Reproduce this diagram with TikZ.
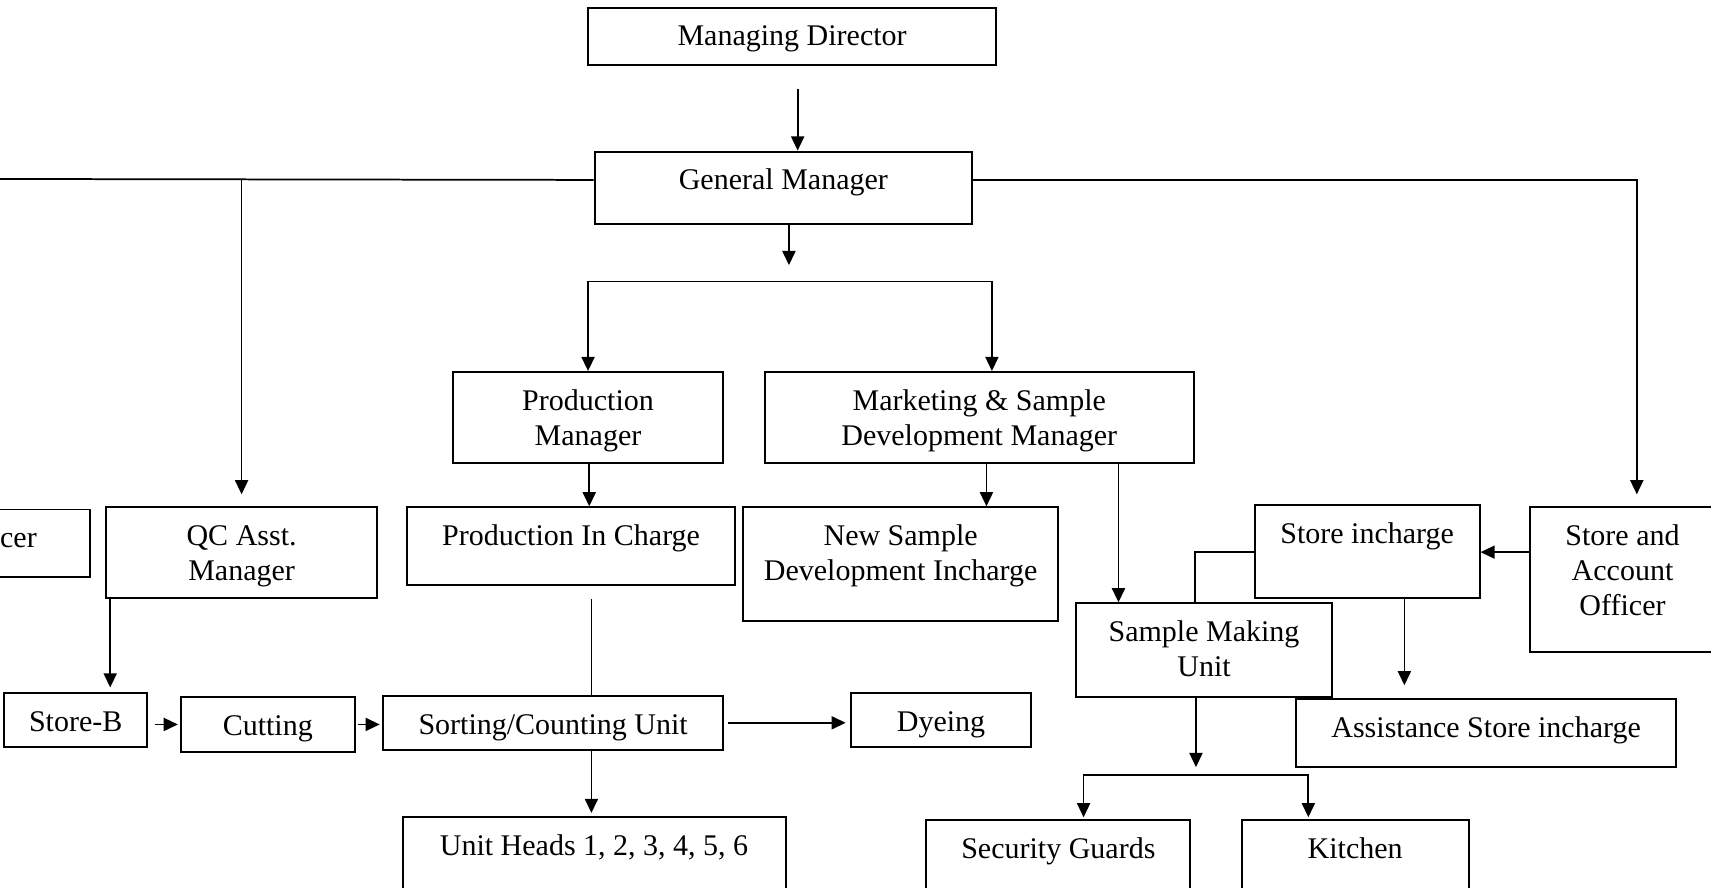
\documentclass[tikz,border=0pt]{standalone}
\usepackage{fontspec}
\setmainfont{Liberation Serif}
\usetikzlibrary{arrows.meta}

\begin{document}
\begin{tikzpicture}[x=1pt, y=-1pt,
	box/.style={draw, line width=1.8pt, anchor=north west, align=center,
		inner xsep=0pt, inner ysep=0pt, text height=35pt,
		font=\fontsize{27.5}{32}\selectfont},
	two/.style={text height=67pt},
	three/.style={text height=99pt},
	ln/.style={line width=1.6pt},
	arr/.style={ln, -{Triangle[length=13pt,width=12pt]}}]
	\useasboundingbox (0,0) rectangle (1568,813);
	\clip (0,0) rectangle (1568,813);

	\node[box, minimum width=374pt, text depth=18pt] (md) at (538,6) {Managing Director};
	\node[box, minimum width=346pt, text depth=31pt] (gm) at (544,138) {General Manager};
	\node[box, two, minimum width=248pt, text depth=16pt] (pm) at (414,340) {Production\\Manager};
	\node[box, two, minimum width=393pt, text depth=16pt] (mk) at (700,340) {Marketing \& Sample\\Development Manager};
	\node[box, minimum width=132pt, text depth=27pt] (off) at (-50,466) {cer};
	\node[box, two, minimum width=249pt, text depth=16pt] (qc) at (96,464) {QC Asst.\\Manager};
	\node[box, minimum width=301pt, text depth=36pt] (pic) at (372,464) {Production In Charge};
	\node[box, two, minimum width=289pt, text depth=37pt] (nsd) at (680,464) {New Sample\\Development Incharge};
	\node[box, minimum width=206pt, text depth=50pt] (si) at (1149,462) {Store incharge};
	\node[box, three, minimum width=170pt, text depth=34pt] (sao) at (1401,464) {Store and\\Account\\Officer};
	\node[box, two, minimum width=235pt, text depth=19pt] (smu) at (985,552) {Sample Making\\Unit};
	\node[box, minimum width=131pt, text depth=15pt] (sb) at (3,634) {Store-B};
	\node[box, minimum width=159pt, text depth=15pt] (cut) at (165,638) {Cutting};
	\node[box, minimum width=312pt, text depth=14pt] (sort) at (350,637) {Sorting/Counting Unit};
	\node[box, minimum width=165pt, text depth=15pt] (dye) at (779,634) {Dyeing};
	\node[box, minimum width=348pt, text depth=27pt] (asi) at (1187,640) {Assistance Store incharge};
	\node[box, minimum width=351pt, text depth=55pt] (uh) at (368,748) {Unit Heads 1, 2, 3, 4, 5, 6};
	\node[box, minimum width=242pt, text depth=55pt] (sg) at (848,751) {Security Guards};
	\node[box, minimum width=208pt, text depth=55pt] (kit) at (1137,751) {Kitchen};

	\coordinate (farleft) at (-10,164);
	\coordinate (split) at (723,258);
	\coordinate (split2) at (1096,710);

	\draw[arr, shorten <=21pt] (731,0 |- md.south) -- (731,0 |- gm.north);
	\draw[ln] (farleft) -- ([yshift=7pt]gm.west);
	\draw[arr, shorten >=11pt] (qc.north |- farleft) -- (qc.north);
	\draw[arr, shorten >=11pt] ([yshift=7pt]gm.east) -| (1500,0 |- sao.north);
	\draw[arr, shorten >=15pt] (723,0 |- gm.south) -- (split);
	\draw[arr] (split) -| (pm.north);
	\draw[arr] (split) -| (909,0 |- mk.north);
	\draw[arr] (540,0 |- pm.south) -- (540,0 |- pic.north);
	\draw[arr] (904,0 |- mk.south) -- (904,0 |- nsd.north);
	\draw[arr] (1025,0 |- mk.south) -- (1025,0 |- smu.north);
	\draw[ln, shorten <=12pt] (542,0 |- pic.south) -- (542,0 |- sort.north);
	\draw[arr, shorten >=3pt] (542,0 |- sort.south) -- (542,0 |- uh.north);
	\draw[arr, shorten >=4pt] (101,0 |- qc.south) -- (101,0 |- sb.north);
	\draw[arr, shorten <=6pt, shorten >=2pt] (sb.east |- cut.west) -- (cut.west);
	\draw[arr, shorten <=2pt, shorten >=2pt] (cut.east) -- (cut.east -| sort.west);
	\draw[arr, shorten <=3pt, shorten >=4pt] (sort.east) -- (sort.east -| dye.west);
	\draw[arr] (sao.west |- 0,506) -- (si.east |- 0,506);
	\draw[arr, shorten >=12pt] (1287,0 |- si.south) -- (1287,0 |- asi.north);
	\draw[ln] (si.west |- 0,506) -| (1095,0 |- smu.north);
	\draw[arr, shorten >=7pt] (1096,0 |- smu.south) -- (split2);
	\draw[arr, shorten >=2pt] (split2) -| (993,0 |- sg.north);
	\draw[arr, shorten >=2pt] (split2) -| (1199,0 |- kit.north);
\end{tikzpicture}
\end{document}
